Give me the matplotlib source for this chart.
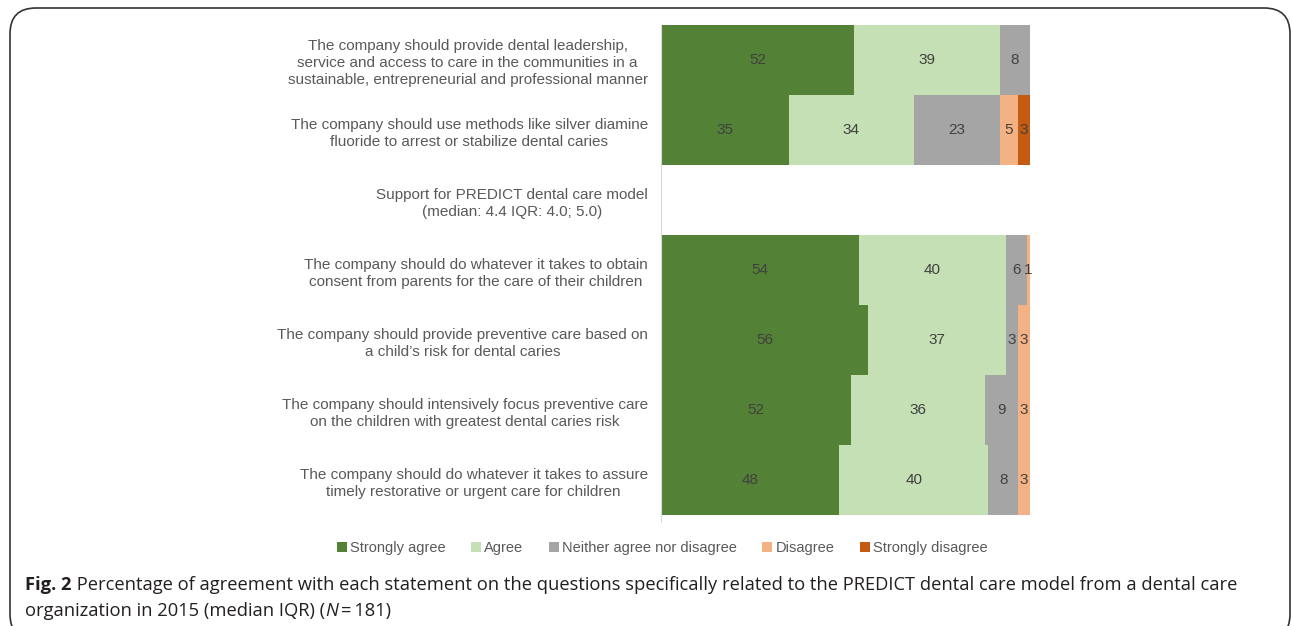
import matplotlib.pyplot as plt
import numpy as np
from matplotlib.patches import FancyBboxPatch

# statements (top to bottom), the empty row carries the summary text
statements = [
    "The company should provide dental leadership,\nservice and access to care in the communities in a\nsustainable, entrepreneurial and professional manner",
    "The company should use methods like silver diamine\nfluoride to arrest or stabilize dental caries",
    "Support for PREDICT dental care model\n(median: 4.4 IQR: 4.0; 5.0)",
    "The company should do whatever it takes to obtain\nconsent from parents for the care of their children",
    "The company should provide preventive care based on\na child\u2019s risk for dental caries",
    "The company should intensively focus preventive care\non the children with greatest dental caries risk",
    "The company should do whatever it takes to assure\ntimely restorative or urgent care for children",
]
categories = ["Strongly agree", "Agree", "Neither agree nor disagree", "Disagree", "Strongly disagree"]

# percentages per statement
strongly_agree = [52.4, 34.6, 0, 53.6, 56.2, 51.6, 48.3]
agree = [39.4, 33.9, 0, 40.0, 37.4, 36.2, 40.4]
neither = [8.2, 23.3, 0, 5.6, 3.1, 8.9, 8.1]
disagree = [0, 4.9, 0, 0.8, 3.3, 3.3, 3.2]
strongly_disagree = [0, 3.3, 0, 0, 0, 0, 0]

colors = ["#538135", "#C5E0B4", "#A5A5A5", "#F4B183", "#C55A11"]

fig = plt.figure(figsize=(12.92, 6.26), dpi=100)
ax = fig.add_axes([661 / 1292, 1 - 515 / 626, 369 / 1292, 490 / 626])

series = [strongly_agree, agree, neither, disagree, strongly_disagree]
y = np.arange(len(statements))
left = np.zeros(len(statements))
for vals, col, name in zip(series, colors, categories):
    vals = np.array(vals, dtype=float)
    ax.barh(y, vals, left=left, height=1.0, color=col, label=name)
    for yi, v, l in zip(y, vals, left):
        if v > 0:
            ax.text(l + v / 2, yi, f"{v:.0f}", ha="center", va="center",
                    fontsize=11, color="#404040", family="Liberation Sans")
    left += vals

ax.set_xlim(0, 100)
ax.set_ylim(len(statements) - 0.5, -0.5)
ax.set_yticks(y)
ax.set_yticklabels(statements, fontsize=11, color="#595959",
                   family="Liberation Sans", multialignment="center", linespacing=1.3)
ax.tick_params(axis="y", length=0, pad=9.5)
ax.set_xticks([])
for s in ["top", "right", "bottom"]:
    ax.spines[s].set_visible(False)
ax.spines["left"].set_color("#D9D9D9")
ax.spines["left"].set_bounds(len(statements) - 0.4, -0.5)

leg = fig.legend(loc="center", bbox_to_anchor=(662 / 1292, 1 - 548 / 626), ncol=5,
                 frameon=False, handlelength=0.7, handleheight=0.7, handletextpad=0.2,
                 columnspacing=1.75, prop={"family": "Liberation Sans", "size": 10.5})
for t in leg.get_texts():
    t.set_color("#595959")

# caption, built from pieces so the bold / italic parts sit inline
cap_kw = dict(fontsize=13.2, family="Open Sans", color="#231F20")
prev = fig.text(25 / 1292, 1 - 594 / 626, "Fig. 2", fontweight="bold", va="bottom", **cap_kw)
prev = fig.add_artist(plt.Annotation(
    " Percentage of agreement with each statement on the questions specifically related to the PREDICT dental care model from a dental care",
    xy=(1, 0), xycoords=prev, va="bottom", **cap_kw))
prev = fig.text(25 / 1292, 1 - 620 / 626, "organization in 2015 (median IQR) (", va="bottom", **cap_kw)
prev = fig.add_artist(plt.Annotation("N", xy=(1, 0), xycoords=prev, va="bottom", style="italic", **cap_kw))
prev = fig.add_artist(plt.Annotation("\u2009=\u2009181)", xy=(1, 0), xycoords=prev, va="bottom", **cap_kw))

# rounded frame around the figure
frame = FancyBboxPatch((10 / 1292, 1 - 640 / 626), 1280 / 1292, 632 / 626,
                       boxstyle="round,pad=0,rounding_size=0.02", transform=fig.transFigure,
                       fill=False, edgecolor="#333333", linewidth=1.2, mutation_aspect=1292 / 626)
fig.add_artist(frame)

fig.savefig("out.png", dpi=100)
